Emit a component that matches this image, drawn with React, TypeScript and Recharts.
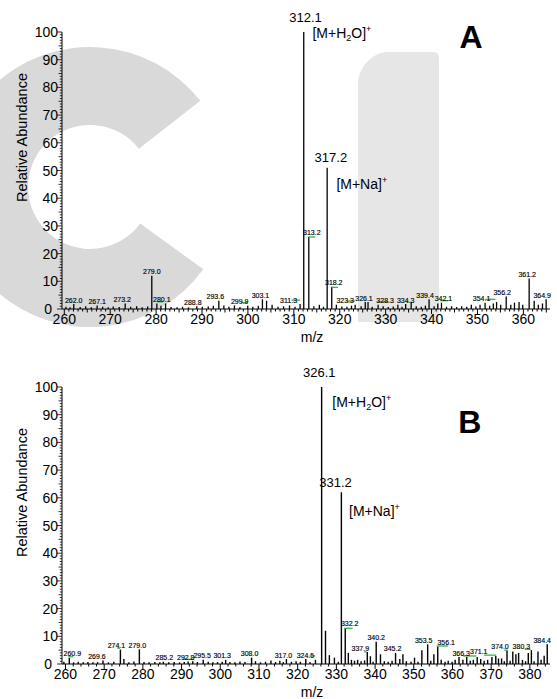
import React from 'react';
import { ComposedChart, Bar, XAxis, YAxis, ReferenceDot, ReferenceLine, LabelList } from 'recharts';

const FONT = '"Liberation Sans", Arial, Helvetica, sans-serif';
const GREEN = '#3cb043';

// ---------- Panel A ----------
const mzA = [260.3, 261.2, 262.0, 263.4, 264.6, 265.8, 267.1, 268.3, 269.5, 270.6, 271.9, 273.2, 274.4, 275.7, 276.9, 278.1, 279.0, 280.1, 281.0, 282.0, 283.2, 284.5, 285.7, 287.0, 288.8, 290.0, 291.3, 292.4, 293.6, 294.7, 295.8, 297.0, 298.2, 299.9, 301.0, 302.2, 303.1, 304.0, 305.2, 306.5, 307.7, 309.0, 310.2, 311.3, 312.1, 313.2, 314.3, 315.5, 316.4, 317.2, 318.2, 319.2, 320.4, 321.5, 322.5, 323.3, 324.6, 325.5, 326.1, 327.0, 328.3, 329.4, 330.5, 331.6, 332.6, 333.5, 334.3, 335.5, 336.6, 337.7, 338.6, 339.4, 340.5, 341.3, 342.1, 343.2, 344.3, 345.4, 346.5, 347.6, 348.6, 349.6, 350.5, 351.6, 352.6, 353.4, 354.1, 355.0, 356.2, 357.2, 358.0, 359.0, 359.8, 361.2, 362.3, 363.2, 364.1, 364.9];
const abA = [0.8, 0.6, 1.8, 0.7, 1.0, 0.6, 1.3, 0.8, 0.6, 0.9, 0.7, 2.0, 0.8, 1.0, 0.6, 0.9, 12.0, 2.0, 1.2, 2.0, 0.7, 0.6, 0.8, 0.6, 1.0, 0.8, 0.9, 1.2, 3.0, 1.3, 0.8, 1.3, 0.7, 1.2, 0.8, 1.2, 3.5, 3.0, 1.5, 0.8, 1.0, 1.3, 0.8, 1.8, 100, 26, 1.0, 1.5, 0.8, 51, 8, 1.5, 0.9, 0.8, 1.2, 1.5, 1.0, 2.5, 2.5, 0.8, 1.5, 1.0, 0.7, 0.9, 1.5, 0.8, 1.8, 2.5, 1.0, 0.8, 1.2, 3.5, 1.0, 2.0, 2.3, 0.8, 1.0, 0.7, 1.0, 0.8, 1.5, 0.9, 1.5, 2.3, 1.2, 2.0, 2.5, 1.5, 4.5, 1.5, 2.3, 2.5, 1.5, 11, 3.0, 1.5, 2.0, 3.5];
const labelsA = [262.0, 267.1, 273.2, 279.0, 280.1, 288.8, 293.6, 299.9, 303.1, 311.3, 313.2, 318.2, 323.3, 326.1, 328.3, 334.3, 339.4, 342.1, 354.1, 356.2, 361.2, 364.9];
const greensA: [number, number, number][] = [[280.2, 281.5, 2.6], [298.6, 299.9, 2.3], [309.5, 311.4, 3.2], [313.2, 314.7, 26], [318.2, 319.6, 7.8], [321.5, 323.3, 2.9], [328.2, 330.6, 2.6], [334.4, 335.0, 2.6], [341.9, 343.7, 3.0], [351.7, 353.9, 3.5]];
const xLabelsA = [260, 270, 280, 290, 300, 310, 320, 330, 340, 350, 360];

// ---------- Panel B ----------
const mzB = [259.5, 260.9, 262.0, 263.2, 264.5, 265.7, 267.0, 268.2, 269.6, 271.0, 272.4, 274.1, 275.0, 276.3, 277.6, 279.0, 280.2, 281.5, 283.0, 284.3, 285.2, 286.6, 288.0, 289.4, 290.6, 291.6, 292.8, 294.0, 295.5, 296.8, 298.0, 299.2, 300.4, 301.3, 302.4, 303.7, 305.0, 306.3, 308.0, 309.0, 310.3, 311.6, 313.0, 314.2, 315.3, 316.2, 317.0, 318.3, 319.5, 320.6, 322.0, 323.1, 324.5, 326.1, 327.1, 328.1, 329.4, 330.4, 331.2, 332.2, 333.0, 333.8, 334.6, 335.4, 336.3, 337.2, 337.9, 338.7, 339.4, 340.2, 341.3, 342.3, 343.3, 344.3, 345.2, 346.3, 347.1, 348.0, 349.2, 350.1, 351.0, 352.0, 353.5, 354.3, 355.1, 356.1, 357.0, 358.0, 358.8, 359.8, 360.6, 361.6, 362.6, 363.6, 364.5, 365.3, 366.3, 367.2, 368.1, 369.0, 370.1, 371.1, 371.8, 372.6, 373.3, 374.0, 374.8, 375.5, 376.3, 377.0, 378.0, 378.8, 379.5, 380.3, 381.0, 382.0, 382.8, 383.6, 384.4];
const abB = [0.8, 2.2, 0.6, 0.8, 0.6, 0.7, 0.6, 0.7, 1.3, 0.6, 0.8, 5.2, 1.8, 0.6, 0.9, 5.3, 0.7, 0.6, 0.7, 0.6, 0.8, 0.6, 0.7, 0.6, 0.7, 0.9, 1.0, 0.7, 1.5, 0.8, 0.6, 0.7, 0.8, 1.5, 0.7, 0.6, 0.9, 0.7, 2.3, 1.0, 0.6, 0.8, 1.3, 0.7, 1.2, 0.7, 1.8, 0.8, 1.0, 0.8, 1.8, 0.7, 1.5, 100, 12, 3.2, 2.3, 0.8, 62, 13, 4.0, 1.5, 1.2, 1.5, 1.0, 1.3, 4.3, 2.8, 0.8, 8.0, 3.5, 1.0, 0.8, 1.2, 4.0, 1.8, 3.5, 1.0, 0.8, 2.3, 0.8, 5.0, 7.1, 1.2, 3.5, 6.3, 1.5, 0.8, 1.2, 0.8, 1.5, 2.5, 1.5, 2.5, 1.2, 1.5, 2.5, 1.8, 1.2, 1.5, 2.5, 3.0, 2.0, 2.0, 1.0, 5.0, 1.2, 4.5, 3.5, 4.0, 1.5, 1.0, 4.0, 5.0, 1.0, 4.5, 1.5, 3.0, 7.1];
const labelsB = [260.9, 269.6, 274.1, 279.0, 285.2, 292.8, 295.5, 301.3, 308.0, 317.0, 324.5, 332.2, 337.9, 340.2, 345.2, 353.5, 356.1, 366.3, 371.1, 374.0, 380.3, 384.4];
const greensB: [number, number, number][] = [[260.7, 262.0, 2.6], [273.4, 274.1, 5.7], [290.4, 293.0, 1.7], [323.0, 324.5, 2.9], [332.0, 334.2, 12.9], [337.2, 337.8, 4.4], [355.9, 358.9, 6.5], [362.8, 366.2, 2.9], [368.2, 371.2, 3.2], [373.4, 374.2, 5.0], [378.7, 380.2, 5.3]];
const xLabelsB = [260, 270, 280, 290, 300, 310, 320, 330, 340, 350, 360, 370, 380];

const yLabels = [0, 10, 20, 30, 40, 50, 60, 70, 80, 90, 100];

// horizontal nudges (px) of the small peak labels, as placed in the figure
const shiftA: Record<string, number> = {
  '273.2': -3, '280.1': 5, '288.8': -4, '293.6': -3.5, '299.9': -8, '303.1': -2, '311.3': -11.5, '313.2': 3,
  '318.2': 2, '323.3': -10, '326.1': -4, '328.3': 7, '339.4': -4, '342.1': 2, '354.1': -15, '356.2': -4,
  '361.2': -2, '364.9': -4,
};
const shiftB: Record<string, number> = {
  '260.9': 3, '269.6': -6, '274.1': -4, '279.0': -2, '285.2': 1, '292.8': -7, '295.5': -1, '301.3': -3.5,
  '308.0': -2, '317.0': -3, '324.5': -10, '332.2': 4.5, '337.9': -7, '345.2': -3, '353.5': -4, '356.1': 8.5,
  '366.3': -16, '371.1': -17, '374.0': -7, '380.3': -10, '384.4': -5,
};

const buildRows = (mz: number[], ab: number[], labels: number[]) =>
  mz.map((m, i) => ({ mz: m, ab: ab[i], lab: labels.some((l) => Math.abs(l - m) < 0.01) ? m.toFixed(1) : '' }));

const dataA = buildRows(mzA, abA, labelsA);
const dataB = buildRows(mzB, abB, labelsB);

const range = (lo: number, hi: number, step: number) => {
  const out: number[] = [];
  for (let v = lo; v <= hi + 1e-9; v += step) out.push(Math.round(v * 10) / 10);
  return out;
};
const yTicks = range(0, 100, 1);
const xTicksA = range(260, 365, 1);
const xTicksB = range(260, 384, 2);

const makeXTick = (labels: number[]) => (props: any) => {
  const { x, y, payload } = props;
  const v = Math.round(payload.value * 10) / 10;
  const isLab = labels.includes(v);
  const len = isLab ? 5 : v % 5 === 0 ? 3.5 : 2.5;
  return (
    <g>
      <line x1={x} x2={x} y1={y} y2={y + len} stroke="#000" strokeWidth={1} />
      {isLab && (
        <text x={x} y={y + 15} textAnchor="middle" fontSize={14} fontFamily={FONT} fill="#000">
          {v}
        </text>
      )}
    </g>
  );
};

const YTick = (props: any) => {
  const { x, y, payload } = props;
  const v = payload.value;
  const isLab = yLabels.includes(v);
  const len = isLab ? 5 : v % 5 === 0 ? 3.5 : 2.2;
  return (
    <g>
      <line x1={x - len} x2={x} y1={y} y2={y} stroke="#000" strokeWidth={0.8} />
      {isLab && (
        <text x={x - (v === 0 ? 10 : 4)} y={y} dy="0.36em" textAnchor="end" fontSize={14} fontFamily={FONT} fill="#000">
          {v}
        </text>
      )}
    </g>
  );
};

const makeSmallLabel = (shifts: Record<string, number>) => (p: any) => {
  const { x, y, width, value } = p;
  if (!value) return null;
  const dx = shifts[value] || 0;
  return (
    <text x={x + width / 2 + dx} y={y - 1.5} textAnchor="middle" fontSize={7} fontFamily={FONT} fill="#000" stroke="#000" strokeWidth={0.15}>
      {value}
    </text>
  );
};

const yAxisLabel = {
  content: (p: any) => {
    const vb = p.viewBox;
    const cx = 22;
    const cy = vb.y + vb.height / 2 - 33;
    return (
      <text x={cx} y={cy} transform={`rotate(-90 ${cx} ${cy})`} textAnchor="middle" dy="0.36em" fontSize={14.5} fontFamily={FONT} fill="#000">
        Relative Abundance
      </text>
    );
  },
};

const xAxisLabel = {
  content: (p: any) => {
    const vb = p.viewBox;
    return (
      <text x={vb.x + vb.width / 2 + 6} y={vb.y + 33} textAnchor="middle" fontSize={14} fontFamily={FONT} fill="#000">
        m/z
      </text>
    );
  },
};

const pt = (p: any) => {
  const vb = p.viewBox || {};
  return { x: (vb.x || 0) + (vb.width || 0) / 2, y: (vb.y || 0) + (vb.height || 0) / 2 };
};

const IonH2O = ({ x, y }: { x: number; y: number }) => (
  <text x={x} y={y} fontSize={14} fontFamily={FONT} fill="#000">
    [M+H<tspan fontSize={9} dy={3}>2</tspan>
    <tspan dy={-3}>O]</tspan>
    <tspan fontSize={9} dy={-6}>+</tspan>
  </text>
);
const IonNa = ({ x, y }: { x: number; y: number }) => (
  <text x={x} y={y} fontSize={14} fontFamily={FONT} fill="#000">
    [M+Na]<tspan fontSize={9} dy={-6}>+</tspan>
  </text>
);

const peakAnnot = (label: string, dxL: number, dyL: number, ion: 'h2o' | 'na', dxI: number, dyI: number) => ({
  content: (p: any) => {
    const { x, y } = pt(p);
    return (
      <g>
        <text x={x + dxL} y={y + dyL} textAnchor="middle" fontSize={13} fontFamily={FONT} fill="#000">
          {label}
        </text>
        {ion === 'h2o' ? <IonH2O x={x + dxI} y={y + dyI} /> : <IonNa x={x + dxI} y={y + dyI} />}
      </g>
    );
  },
});

const letterAnnot = (letter: string) => ({
  content: (p: any) => {
    const { x, y } = pt(p);
    return (
      <text x={x} y={y} textAnchor="middle" fontSize={32} fontWeight="bold" fontFamily={FONT} fill="#000">
        {letter}
      </text>
    );
  },
});

const Background = () => (
  <svg width={557} height={699} style={{ position: 'absolute', left: 0, top: 0 }}>
    <path
      d="M 200.3 100.8 A 140 140 0 1 0 203.3 269.3 L 140.2 223.4 A 62 62 0 1 1 138.9 148.8 Z"
      fill="#d9d9d9"
    />
    <path d="M358,322 V84 C358,68 372,52 388,52 H433 Q439,52 439,58 V322 Z" fill="#e6e6e6" />
  </svg>
);

export default function App() {
  return (
    <div style={{ position: 'absolute', left: 0, top: 0, width: 557, height: 699, background: '#fff', overflow: 'hidden' }}>
      <Background />
      <div style={{ position: 'absolute', left: 0, top: 0 }}>
        <ComposedChart width={557} height={345} data={dataA} margin={{ top: 32, right: 7, bottom: 0, left: 0 }}>
          <XAxis
            dataKey="mz"
            type="number"
            domain={[259.5, 365.8]}
            allowDataOverflow
            ticks={xTicksA}
            interval={0}
            tick={makeXTick(xLabelsA)}
            tickLine={false}
            tickSize={0}
            tickMargin={0}
            height={36}
            stroke="#000"
            label={xAxisLabel}
          />
          <YAxis
            type="number"
            domain={[0, 100]}
            ticks={yTicks}
            interval={0}
            tick={YTick}
            tickLine={false}
            tickSize={0}
            tickMargin={0}
            width={62}
            stroke="#000"
            label={yAxisLabel}
          />
          <Bar dataKey="ab" fill="#000" barSize={1.3} isAnimationActive={false}>
            <LabelList dataKey="lab" content={makeSmallLabel(shiftA)} />
          </Bar>
          {greensA.map(([a, b, h], i) => (
            <ReferenceLine key={'ga' + i} segment={[{ x: a, y: h }, { x: b, y: h }]} stroke={GREEN} strokeWidth={1.3} ifOverflow="visible" />
          ))}
          <ReferenceDot x={312.1} y={100} r={0} fill="none" stroke="none" ifOverflow="visible" label={peakAnnot('312.1', 2, -10, 'h2o', 9, 6)} />
          <ReferenceDot x={317.2} y={51} r={0} fill="none" stroke="none" ifOverflow="visible" label={peakAnnot('317.2', 4, -5.5, 'na', 9.5, 21)} />
          <ReferenceDot x={348.6} y={94.2} r={0} fill="none" stroke="none" ifOverflow="visible" label={letterAnnot('A')} />
        </ComposedChart>
      </div>
      <div style={{ position: 'absolute', left: 0, top: 345 }}>
        <ComposedChart width={557} height={354} data={dataB} margin={{ top: 42, right: 7, bottom: 0, left: 0 }}>
          <XAxis
            dataKey="mz"
            type="number"
            domain={[259.1, 385.2]}
            allowDataOverflow
            ticks={xTicksB}
            interval={0}
            tick={makeXTick(xLabelsB)}
            tickLine={false}
            tickSize={0}
            tickMargin={0}
            height={35}
            stroke="#000"
            label={xAxisLabel}
          />
          <YAxis
            type="number"
            domain={[0, 100]}
            ticks={yTicks}
            interval={0}
            tick={YTick}
            tickLine={false}
            tickSize={0}
            tickMargin={0}
            width={62}
            stroke="#000"
            label={yAxisLabel}
          />
          <Bar dataKey="ab" fill="#000" barSize={1.4} isAnimationActive={false}>
            <LabelList dataKey="lab" content={makeSmallLabel(shiftB)} />
          </Bar>
          {greensB.map(([a, b, h], i) => (
            <ReferenceLine key={'gb' + i} segment={[{ x: a, y: h }, { x: b, y: h }]} stroke={GREEN} strokeWidth={1.3} ifOverflow="visible" />
          ))}
          <ReferenceDot x={326.1} y={100} r={0} fill="none" stroke="none" ifOverflow="visible" label={peakAnnot('326.1', -2, -10.5, 'h2o', 11, 19.5)} />
          <ReferenceDot x={331.2} y={62} r={0} fill="none" stroke="none" ifOverflow="visible" label={peakAnnot('331.2', -5.5, -5, 'na', 8, 24)} />
          <ReferenceDot x={364.5} y={83.4} r={0} fill="none" stroke="none" ifOverflow="visible" label={letterAnnot('B')} />
        </ComposedChart>
      </div>
    </div>
  );
}
